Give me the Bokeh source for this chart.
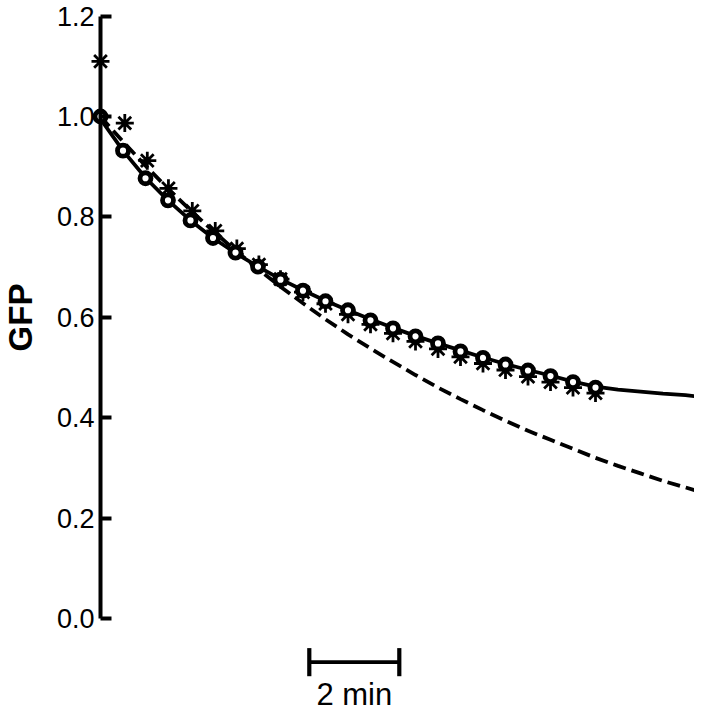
from bokeh.plotting import figure
from bokeh.models import Range1d, LinearAxis, FixedTicker, PrintfTickFormatter
from bokeh.core.properties import value
from bokeh.embed import file_html
from bokeh.resources import INLINE

# time in minutes (30 s sampling)
t_obs = [0.0, 0.5, 1.0, 1.5, 2.0, 2.5, 3.0, 3.5, 4.0, 4.5, 5.0, 5.5,
         6.0, 6.5, 7.0, 7.5, 8.0, 8.5, 9.0, 9.5, 10.0, 10.5, 11.0]
gfp_circles = [1.000, 0.932, 0.877, 0.833, 0.793, 0.758, 0.729, 0.701, 0.675, 0.653, 0.632, 0.614,
               0.594, 0.578, 0.562, 0.548, 0.532, 0.519, 0.506, 0.494, 0.483, 0.471, 0.460]
t_star = [0.0, 0.54, 1.04, 1.51, 2.04, 2.55, 3.03, 3.52, 4.0, 4.5, 5.0, 5.5,
          6.0, 6.5, 7.0, 7.5, 8.0, 8.5, 9.0, 9.5, 10.0, 10.5, 11.0]
gfp_stars = [1.110, 0.987, 0.912, 0.857, 0.812, 0.772, 0.737, 0.705, 0.676, 0.650, 0.627, 0.606,
             0.586, 0.568, 0.552, 0.537, 0.521, 0.508, 0.495, 0.482, 0.471, 0.460, 0.449]

# fitted curves
t_fit = [0.0, 0.5, 1.0, 1.5, 2.0, 2.5, 3.0, 3.5, 4.0, 4.5, 5.0, 5.5, 6.0, 6.5,
         7.0, 7.5, 8.0, 8.5, 9.0, 9.5, 10.0, 10.5, 11.0, 11.5, 12.0, 12.5, 13.0, 13.3]
fit_solid = [0.995, 0.932, 0.878, 0.833, 0.793, 0.758, 0.728, 0.701, 0.676, 0.654, 0.633, 0.614,
             0.596, 0.579, 0.563, 0.548, 0.534, 0.520, 0.507, 0.495, 0.484, 0.472, 0.462,
             0.456, 0.452, 0.448, 0.445, 0.442]
fit_dashed = [1.000, 0.950, 0.902, 0.856, 0.813, 0.772, 0.733, 0.696, 0.661, 0.628, 0.596, 0.566,
              0.538, 0.511, 0.485, 0.460, 0.437, 0.415, 0.394, 0.374, 0.356, 0.338, 0.320,
              0.304, 0.289, 0.274, 0.261, 0.253]

y_ticks = [0.0, 0.2, 0.4, 0.6, 0.8, 1.0, 1.2]

# scale bar (minutes)
bar_start = 4.64
bar_length = 2.0
bar_y = -0.087
bar_cap = 0.028
bar_label = "2 min"
bar_label_y = -0.152

FONT = "Liberation Sans"

p = figure(width=694, height=711, output_backend="svg", toolbar_location=None,
           x_axis_location=None, y_axis_location=None, min_border=0,
           x_range=Range1d(-2.2222, 13.2), y_range=Range1d(-0.1853, 1.2311))
p.outline_line_color = None
p.background_fill_color = "white"
for g in p.grid:
    g.visible = False

yaxis = LinearAxis(fixed_location=0, bounds=(0, 1.2),
                   ticker=FixedTicker(ticks=y_ticks, minor_ticks=[]),
                   formatter=PrintfTickFormatter(format="%.1f"),
                   axis_label="GFP")
yaxis.axis_line_width = 4
yaxis.axis_line_color = "black"
yaxis.major_tick_line_width = 4
yaxis.major_tick_in = 11
yaxis.major_tick_out = 0
yaxis.minor_tick_line_color = None
yaxis.major_label_standoff = 6
yaxis.major_label_text_font = FONT
yaxis.major_label_text_font_size = "27px"
yaxis.major_label_text_color = "black"
yaxis.axis_label_text_font = FONT
yaxis.axis_label_text_font_style = "bold"
yaxis.axis_label_text_font_size = "33px"
yaxis.axis_label_text_color = "black"
yaxis.axis_label_standoff = 15
p.add_layout(yaxis, "left")

p.line(t_fit, fit_dashed, line_color="black", line_width=3.8, line_dash="13 6")
p.line(t_fit, fit_solid, line_color="black", line_width=3.8)
p.scatter(t_star, gfp_stars, marker="asterisk", size=18, line_width=2.8, line_color="black")
p.scatter(t_obs, gfp_circles, marker="circle", size=11, line_width=4.8,
          line_color="black", fill_color="white")

bar_end = bar_start + bar_length
p.segment(x0=[bar_start], y0=[bar_y], x1=[bar_end], y1=[bar_y], line_color="black", line_width=3.8)
p.segment(x0=[bar_start, bar_end], y0=[bar_y - bar_cap] * 2, x1=[bar_start, bar_end],
          y1=[bar_y + bar_cap] * 2, line_color="black", line_width=4.2)
p.text(x=[bar_start + bar_length / 2], y=[bar_label_y], text=[bar_label], text_align="center",
       text_baseline="alphabetic", text_font=value(FONT), text_font_size="31px", text_color="black")

open("out.html", "w").write(file_html(p, INLINE))
